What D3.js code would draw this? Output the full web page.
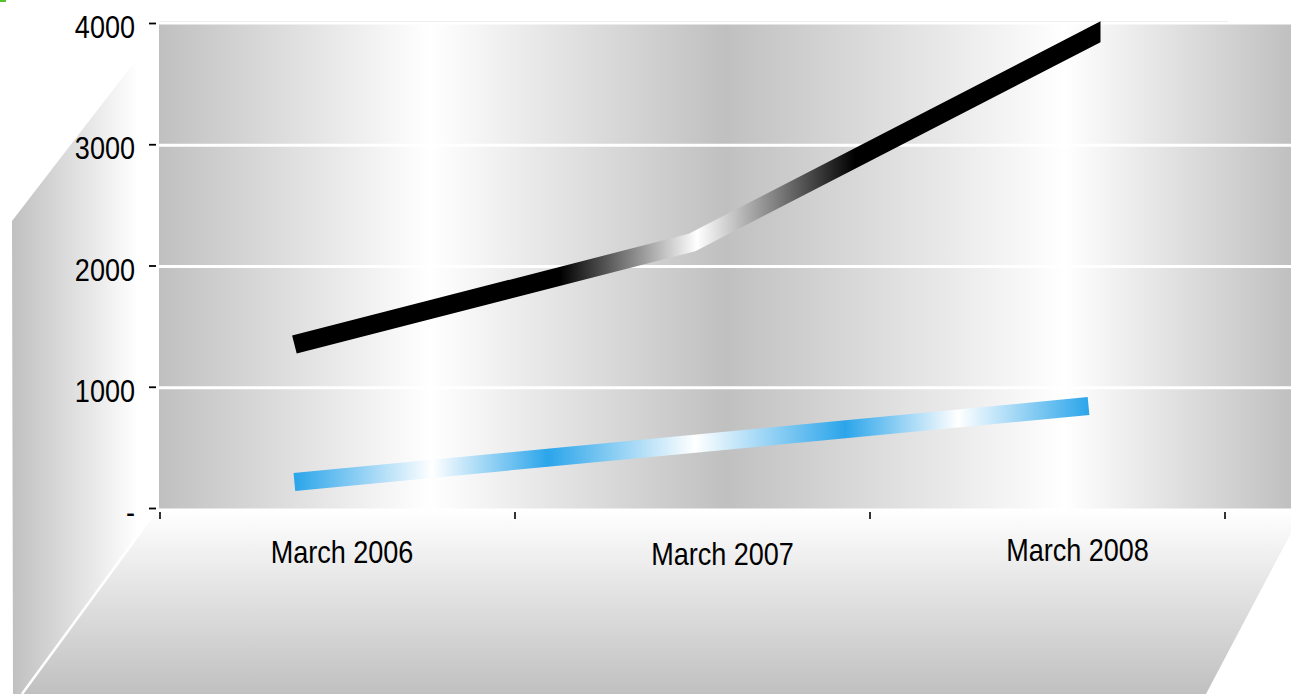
<!DOCTYPE html>
<html><head><meta charset="utf-8">
<style>html,body{margin:0;padding:0;background:#fff;overflow:hidden}svg{display:block}text{font-family:"Liberation Sans",Arial,sans-serif;fill:#000}</style>
<script src="https://cdn.jsdelivr.net/npm/d3@7"></script></head><body>
<script>
const categories = ["March 2006", "March 2007", "March 2008"];
const yTicks = [0, 1000, 2000, 3000, 4000];
// x is measured in category periods along the axis (0 = left edge, 3 = right edge)
const blackX = [0.38, 1.50, 2.67];
const blackValues = [1357, 2198, 3965];
const blueX = [0.38, 1.50, 2.617];
const blueValues = [223, 536, 849];

const W = 1291, H = 694;
const labelLayout = [{dx: 4.5, y: 563}, {dx: 30, y: 565}, {dx: 30, y: 561}];
const svg = d3.select("body").append("svg").attr("width", W).attr("height", H);
const defs = svg.append("defs");

const x = d3.scaleLinear().domain([0, 3]).range([159.5, 1224.5]);
const xBand = d3.scaleBand().domain(categories).range([160, 1225]);
const y = d3.scaleLinear().domain([0, 4000]).range([509, 24]);

function grad(id, stops, a, dir) {
  const g = defs.append("linearGradient").attr("id", id).attr("gradientUnits", "userSpaceOnUse");
  if (dir === "h") g.attr("x1", a[0]).attr("x2", a[1]).attr("y1", 0).attr("y2", 0);
  else g.attr("x1", 0).attr("x2", 0).attr("y1", a[0]).attr("y2", a[1]);
  stops.forEach(s => g.append("stop").attr("offset", (s[0] - a[0]) / (a[1] - a[0])).attr("stop-color", s[1]));
}
const G = "#c0c0c0", Wh = "#ffffff", K = "#000000", B = "#2ba5ea";
grad("bg", [[159, G], [430, Wh], [725, G], [1065, Wh], [1291, G]], [159, 1291], "h");
grad("wall", [[12, G], [138, Wh]], [12, 138], "h");
grad("floor", [[510, Wh], [694, G]], [510, 694], "v");
grad("blackLine", [[295, K], [560, K], [697, Wh], [855, K], [1110, K]], [295, 1110], "h");
grad("blueLine", [[295, B], [432, Wh], [548, B], [695, Wh], [845, B], [958, Wh], [1089, B]], [295, 1089], "h");

const poly = pts => "M" + pts.map(p => p.join(",")).join("L") + "Z";
// side wall
svg.append("path").attr("d", poly([[12, 221], [136, 60], [158, 31], [158, 511], [22, 694], [13, 694]])).attr("fill", "url(#wall)");
// floor
svg.append("path").attr("d", poly([[156, 510], [1291, 510], [1291, 533], [1206, 694], [22, 694]])).attr("fill", "url(#floor)");
svg.append("line").attr("x1", 156).attr("y1", 511).attr("x2", 22).attr("y2", 694).attr("stroke", "#fff").attr("stroke-width", 2.5);
// back plane
svg.append("rect").attr("x", 159).attr("y", 24.5).attr("width", W - 159).attr("height", 484).attr("fill", "url(#bg)");
svg.append("line").attr("x1", 159).attr("x2", 1228).attr("y1", 21.5).attr("y2", 21.5).attr("stroke", "#eeeeee").attr("stroke-width", 1);
// gridlines
svg.append("g").selectAll("line").data(yTicks.filter(d => d > 0 && d < 4000)).join("line")
  .attr("x1", 159).attr("x2", W).attr("y1", d => y(d)).attr("y2", d => y(d))
  .attr("stroke", "#fff").attr("stroke-width", 3);

// series
defs.append("clipPath").attr("id", "endCut").append("rect").attr("x", 0).attr("y", 0).attr("width", 1100.5).attr("height", H);
const line = d3.line().x(d => x(d[0])).y(d => y(d[1]));
svg.append("path").attr("d", line(d3.zip(blueX, blueValues))).attr("fill", "none")
  .attr("stroke", "url(#blueLine)").attr("stroke-width", 18);
svg.append("path").attr("d", line(d3.zip(blackX, blackValues))).attr("fill", "none")
  .attr("clip-path", "url(#endCut)").attr("stroke-linejoin", "bevel")
  .attr("stroke", "url(#blackLine)").attr("stroke-width", 18.5);

// y axis
const yAxis = svg.append("g").attr("transform", "translate(156,-1)")
  .call(d3.axisLeft(y).tickValues(yTicks).tickSize(7).tickFormat(d => d === 0 ? "-" : String(d)));
yAxis.select(".domain").remove();
yAxis.selectAll("line").attr("stroke", "#000").attr("stroke-width", 1.8);
yAxis.selectAll("text").attr("x", null).attr("dy", null).attr("text-anchor", "end")
  .attr("font-size", 32).attr("transform", "translate(-21,14.5) scale(.845,1)");

// x axis
const xAxis = svg.append("g").attr("transform", "translate(0,512)")
  .call(d3.axisBottom(x).tickValues([0, 1, 2, 3]).tickSize(7).tickFormat(""));
xAxis.select(".domain").remove();
xAxis.selectAll("line").attr("stroke", "#000").attr("stroke-width", 1.6);

svg.append("g").selectAll("text").data(categories).join("text")
  .attr("text-anchor", "middle").attr("font-size", 32)
  .attr("transform", (d, i) => `translate(${xBand(d) + xBand.bandwidth() / 2 + labelLayout[i].dx},${labelLayout[i].y}) scale(.845,1)`)
  .text(d => d);

svg.append("rect").attr("x", 0).attr("y", 0).attr("width", 6).attr("height", 2).attr("fill", "#55c22a");
</script></body></html>
